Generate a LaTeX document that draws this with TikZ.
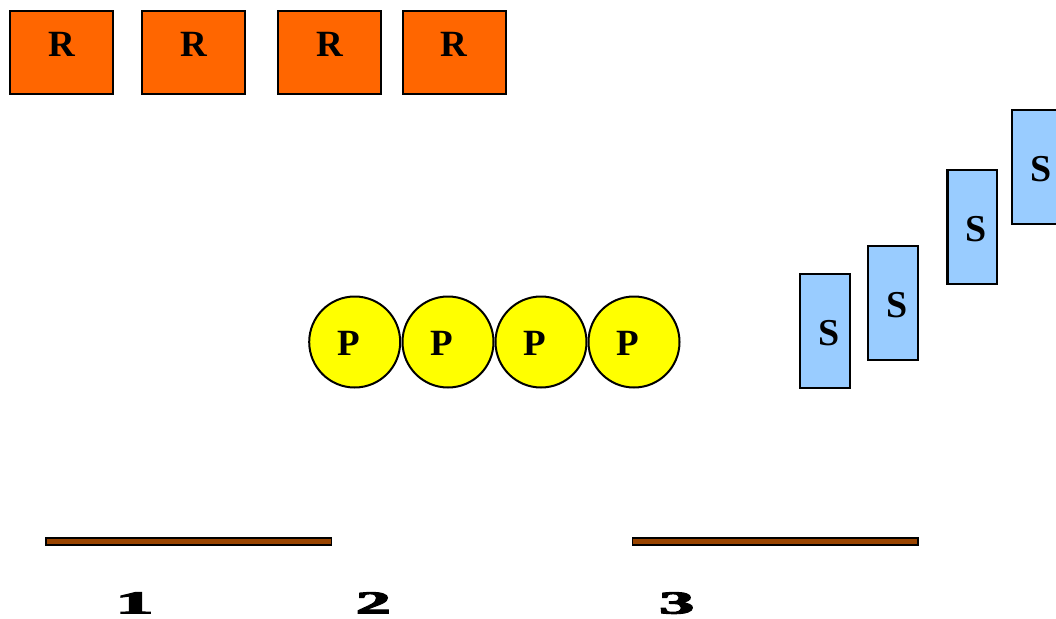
\documentclass[tikz,border=0pt]{standalone}
\usepackage{fontspec}
\setmainfont{Liberation Serif}
\newfontfamily\digitfont[BoldFeatures={FakeBold=3}]{Liberation Serif}
\definecolor{rorange}{HTML}{FF6600}
\definecolor{pyellow}{HTML}{FFFF00}
\definecolor{sblue}{HTML}{99CCFF}
\definecolor{barbrown}{HTML}{994400}
\tikzset{
  rbox/.style={draw=black, line width=2.3pt, fill=rorange, minimum width=103pt, minimum height=83pt, inner sep=0pt, outer sep=0pt},
  pcirc/.style={draw=black, line width=2pt, fill=pyellow, circle, minimum size=91pt, inner sep=0pt, outer sep=0pt},
  sbox/.style={draw=black, line width=2.3pt, fill=sblue, minimum width=49.5pt, minimum height=114pt, inner sep=0pt, outer sep=0pt},
  barbox/.style={draw=black, line width=1.6pt, fill=barbrown, minimum width=285.5pt, minimum height=6.8pt, inner sep=0pt, outer sep=0pt},
  lbl/.style={font=\fontsize{37}{37}\selectfont\bfseries, inner sep=0pt},
  slbl/.style={font=\fontsize{38}{38}\selectfont\bfseries, inner sep=0pt},
  numlbl/.style={font=\fontsize{32}{32}\digitfont\bfseries, inner sep=0pt, anchor=base}
}
\begin{document}
\begin{tikzpicture}[x=1pt, y=-1pt]
\useasboundingbox (0,0) rectangle (1056,618);
% R boxes
\node[rbox] (r1) at (61.7,52.5) {};
\node[rbox] (r2) at (193.8,52.5) {};
\node[rbox] (r3) at (329.5,52.5) {};
\node[rbox] (r4) at (454.2,52.5) {};
\foreach \n in {r1,r2,r3,r4}{
  \node[lbl] (\n t) at ([yshift=8.5pt]\n.center) {R};
}
% P circles
\node[pcirc] (p1) at (354.7,342) {};
\node[pcirc] (p2) at (448,342) {};
\node[pcirc] (p3) at (541,342) {};
\node[pcirc] (p4) at (634,342) {};
\foreach \n in {p1,p2,p3,p4}{
  \node[lbl] (\n t) at ([xshift=-6pt,yshift=-1.5pt]\n.center) {P};
}
% S boxes
\node[sbox] (s1) at (825,330.7) {};
\node[sbox] (s2) at (893,303) {};
\node[sbox] (s3) at (972.2,227) {};
\node[sbox] (s4) at (1037,167) {};
\foreach \n in {s1,s2,s3,s4}{
  \node[slbl] (\n t) at ([xshift=4pt,yshift=-2pt]\n.center) {S};
}
% bars
\node[barbox] (b1) at (188.9,541.5) {};
\node[barbox] (b2) at (775.3,541.5) {};
% numbers
\node[numlbl] (n1) at (134.5,613.5) {\scalebox{2.4}[1]{1}};
\node[numlbl] (n2) at (373.3,613.5) {\scalebox{2.2}[1]{2}};
\node[numlbl] (n3) at (676.7,613.5) {\scalebox{2.2}[1]{3}};
\end{tikzpicture}
\end{document}
